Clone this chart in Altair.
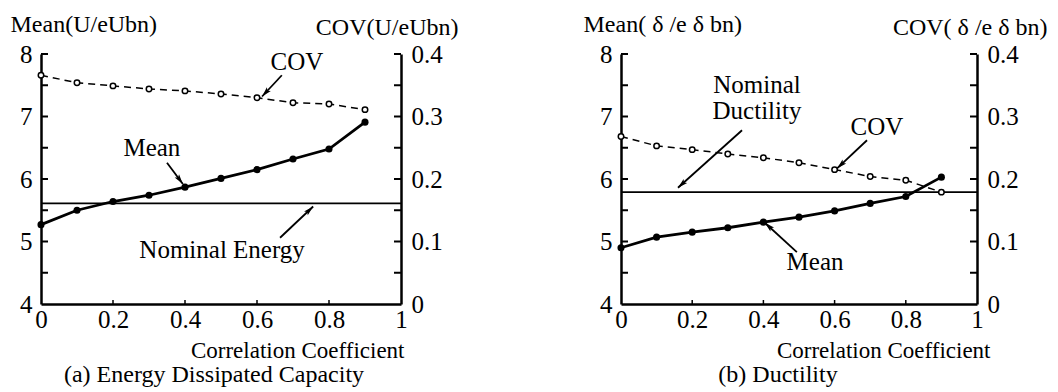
import math
import altair as alt
import pandas as pd

FONT = "Liberation Serif"

# ---------------- data ----------------
corr = [0.0, 0.1, 0.2, 0.3, 0.4, 0.5, 0.6, 0.7, 0.8, 0.9]

mean_a = [5.27, 5.50, 5.64, 5.74, 5.87, 6.01, 6.15, 6.32, 6.48, 6.91]
cov_a = [0.366, 0.354, 0.349, 0.344, 0.341, 0.336, 0.330, 0.322, 0.320, 0.311]
nominal_a = 5.61

mean_b = [4.90, 5.07, 5.15, 5.22, 5.31, 5.39, 5.49, 5.61, 5.72, 6.03]
cov_b = [0.268, 0.253, 0.247, 0.240, 0.234, 0.226, 0.215, 0.204, 0.198, 0.179]
nominal_b = 5.79

mean_labels = [4, 5, 6, 7, 8]
mean_ticks = [4.5, 5, 5.5, 6, 6.5, 7, 7.5, 8]
cov_labels = [0, 0.1, 0.2, 0.3, 0.4]
cov_ticks = [0.05, 0.1, 0.15, 0.2, 0.25, 0.3, 0.35, 0.4]
x_labels = [0, 0.2, 0.4, 0.6, 0.8, 1]
x_ticks = [0.2, 0.4, 0.6, 0.8]

# annotations (in x / Mean units)
text_a = ["COV", "Mean", "Nominal Energy"]
text_a_x = [0.711, 0.308, 0.503]
text_a_y = [7.74, 6.37, 4.73]
arrow_a_x1 = [0.669, 0.350, 0.664]
arrow_a_y1 = [7.66, 6.26, 5.06]
arrow_a_x2 = [0.614, 0.394, 0.756]
arrow_a_y2 = [7.32, 5.92, 5.56]

text_b = ["Nominal\nDuctility", "COV", "Mean"]
text_b_x = [0.382, 0.719, 0.545]
text_b_y = [7.37, 6.71, 4.54]
arrow_b_x1 = [0.340, 0.691, 0.494]
arrow_b_y1 = [6.78, 6.62, 4.83]
arrow_b_x2 = [0.160, 0.607, 0.404]
arrow_b_y2 = [5.86, 6.17, 5.30]

W_A, W_B, H = 360, 356, 250
FS_LAB = 25
FS_TXT = 25
FS_TTL = 24
HEAD = "M0,0 L-0.27,1 L0,0.8 L0.27,1 Z"

x_scale = alt.Scale(domain=[0, 1], nice=False, zero=False)
m_scale = alt.Scale(domain=[4, 8], nice=False, zero=False)
c_scale = alt.Scale(domain=[0, 0.4], nice=False, zero=False)


def panel(mean, cov, nominal, W, mean_title, mt_x, cov_title, ct_x,
          tl, tx, ty, ax1, ay1, ax2, ay2, caption, cap_dx, xt_x):
    df = pd.DataFrame({"x": corr, "mean": mean, "cov": cov})

    x_axis = alt.Axis(values=x_labels, format="~g", ticks=False, grid=False,
                      domainWidth=2.5, domainColor="black", labelFont=FONT,
                      labelFontSize=FS_LAB, labelColor="black", labelPadding=3,
                      labelFlush=False, labelOverlap=False,
                      title="Correlation Coefficient", titleFont=FONT,
                      titleFontSize=FS_TTL - 1, titleFontWeight="normal", titleColor="black",
                      titleAlign="right", titleBaseline="alphabetic", titleLimit=1000,
                      titleX=xt_x, titleY=53, titleAngle=0)
    m_axis = alt.Axis(values=mean_labels, format="d", ticks=False, grid=False,
                      domainWidth=2.5, domainColor="black", labelFont=FONT,
                      labelFontSize=FS_LAB, labelColor="black", labelPadding=9,
                      labelFlush=False, labelOverlap=False,
                      title=mean_title, titleFont=FONT, titleFontSize=FS_TTL,
                      titleFontWeight="normal", titleColor="black", titleAngle=0,
                      titleAlign="left", titleBaseline="alphabetic", titleLimit=1000,
                      titleX=mt_x, titleY=-23)
    c_axis = alt.Axis(orient="right", values=cov_labels, format="~g", ticks=False,
                      grid=False, domainWidth=2.5, domainColor="black",
                      labelFont=FONT, labelFontSize=FS_LAB, labelColor="black",
                      labelPadding=10, labelFlush=False, labelOverlap=False,
                      title=cov_title, titleFont=FONT, titleFontSize=FS_TTL,
                      titleFontWeight="normal", titleColor="black", titleAngle=0,
                      titleAlign="right", titleBaseline="alphabetic", titleLimit=1000,
                      titleX=ct_x, titleY=-20)

    def X(f):
        return alt.X(f, type="quantitative", scale=x_scale, axis=x_axis)

    def YM(f):
        return alt.Y(f, type="quantitative", scale=m_scale, axis=m_axis)

    def YC(f):
        return alt.Y(f, type="quantitative", scale=c_scale, axis=c_axis)

    base = alt.Chart(df)
    mean_line = base.mark_line(color="black", strokeWidth=2.8).encode(
        x=X("x"), y=YM("mean"))
    mean_pts = base.mark_point(filled=True, color="black", size=50, opacity=1).encode(
        x=X("x"), y=YM("mean"))
    nom = alt.Chart(pd.DataFrame({"y": [nominal]})).mark_rule(
        color="black", strokeWidth=1.6).encode(y=YM("y"))
    lticks = alt.Chart(pd.DataFrame({"t": mean_ticks})).mark_rule(
        color="black", strokeWidth=2).encode(y=YM("t"), x=alt.value(0), x2=alt.value(7))
    xticks = alt.Chart(pd.DataFrame({"t": x_ticks})).mark_rule(
        color="black", strokeWidth=1.5).encode(x=X("t"), y=alt.value(H - 4), y2=alt.value(H))

    tdf = pd.DataFrame({"label": tl, "x": tx, "y": ty})
    texts = alt.Chart(tdf).mark_text(font=FONT, fontSize=FS_TXT, align="center",
                                     baseline="alphabetic", color="black",
                                     lineBreak="\n", lineHeight=26).encode(
        x=X("x"), y=YM("y"), text="label:N")

    angs = []
    for a, b, c, d in zip(ax1, ay1, ax2, ay2):
        dx = (c - a) * W
        dy = -(d - b) * H / 4.0
        angs.append((math.degrees(math.atan2(dx, -dy)) + 360) % 360)
    adf = pd.DataFrame({"x1": ax1, "y1": ay1, "x2": ax2, "y2": ay2, "ang": angs})
    arrows = alt.Chart(adf).mark_rule(color="black", strokeWidth=1.8).encode(
        x=X("x1"), y=YM("y1"), x2="x2:Q", y2="y2:Q")
    heads = alt.Chart(adf).mark_point(shape=HEAD, filled=True, color="black",
                                      size=400, opacity=1, strokeWidth=0).encode(
        x=X("x2"), y=YM("y2"), angle=alt.Angle("ang:Q", scale=None))

    mean_group = alt.layer(mean_line, nom, lticks, xticks, arrows, heads, mean_pts, texts)

    cov_line = base.mark_line(color="black", strokeWidth=1.5, strokeDash=[7, 5]).encode(
        x=X("x"), y=YC("cov"))
    cov_pts = base.mark_point(shape="circle", filled=True, fill="white", stroke="black",
                              strokeWidth=1.5, size=30, opacity=1).encode(
        x=X("x"), y=YC("cov"))
    rticks = alt.Chart(pd.DataFrame({"t": cov_ticks})).mark_rule(
        color="black", strokeWidth=2).encode(y=YC("t"), x=alt.value(W - 7), x2=alt.value(W))
    cov_group = alt.layer(cov_line, rticks, cov_pts)

    return alt.layer(mean_group, cov_group).resolve_scale(y="independent").properties(
        width=W, height=H,
        title=alt.TitleParams(caption, orient="bottom", anchor="middle", font=FONT,
                              fontSize=FS_TXT - 1, fontWeight="normal", color="black",
                              dx=cap_dx, offset=1))


left = panel(mean_a, cov_a, nominal_a, W_A, "Mean(U/eUbn)", -31, "COV(U/eUbn)", 57,
             text_a, text_a_x, text_a_y, arrow_a_x1, arrow_a_y1, arrow_a_x2, arrow_a_y2,
             "(a) Energy Dissipated Capacity", -7, W_A + 3)
right = panel(mean_b, cov_b, nominal_b, W_B, "Mean( δ /e δ bn)", -38, "COV( δ /e δ bn)", 70,
              text_b, text_b_x, text_b_y, arrow_b_x1, arrow_b_y1, arrow_b_x2, arrow_b_y2,
              "(b) Ductility", -21, W_B + 13)

chart = alt.hconcat(left, right, spacing=220, bounds="flush").configure_view(
    stroke=None).properties(padding={"left": 2, "top": 4, "right": 0, "bottom": 0})

chart.save("out.html", embed_options={"renderer": "svg", "actions": False})
